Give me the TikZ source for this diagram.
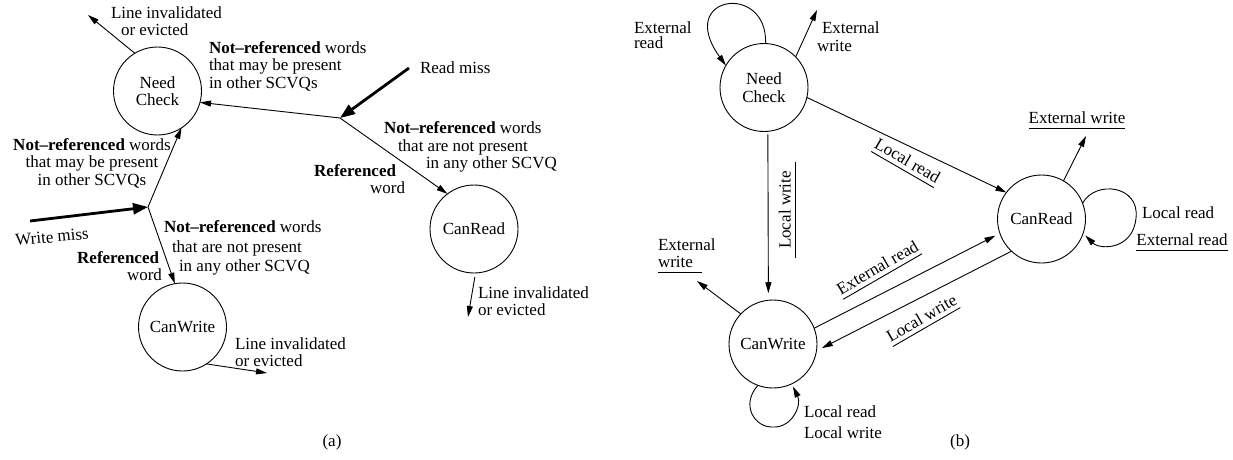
\documentclass[tikz,border=0pt]{standalone}
\usepackage{fontspec}
\setmainfont{Liberation Serif}
\usetikzlibrary{arrows.meta}
% underlined text; #1 and #2 extend the rule to the left and right
\newcommand\undrlr[3]{\setbox0\hbox{#3}\rlap{\hspace*{-#1}\rule[-5pt]{\dimexpr\wd0+#1+#2\relax}{0.9pt}}\box0}
\newcommand\undr[1]{\undrlr{0pt}{0pt}{#1}}

\begin{document}
\begin{tikzpicture}[x=1pt,y=-1pt,
  every node/.style={font=\fontsize{17}{17.5}\selectfont, inner sep=0pt, outer sep=0pt},
  state/.style={circle, draw, line width=0.9pt, minimum size=88pt, align=center},
  txt/.style={align=left, anchor=west},
  arr/.style={line width=0.9pt, -{Triangle[length=11pt,width=6pt]}},
  bigarr/.style={line width=2.8pt, -{Triangle[length=15pt,width=11pt]}},
]
\useasboundingbox (0,0) rectangle (1233,460);

% ---------------- (a) ----------------
\node[state] (nc) at (157.5,91) {Need\\Check};
\node[state] (cw) at (182.5,327) {CanWrite};
\node[state] (cr) at (474,229) {CanRead};
\coordinate (j1) at (340,118);
\coordinate (j2) at (148,207);
\coordinate (rm) at (409,68);
\coordinate (wm) at (30,221);
\coordinate (ncout) at (88,15);
\coordinate (cwout) at (267,373);
\coordinate (crout) at (468,317);

\draw[bigarr] (rm) -- (j1);
\draw[bigarr] (wm) -- (j2);
\draw[arr] (j1) -- (nc.-15);
\draw[arr] (j1) -- (cr.127);
\draw[arr] (j2) -- (nc.-57);
\draw[arr] (j2) -- (cw.100);
\draw[arr] (nc.121) -- (ncout);
\draw[arr] (cw.-57) -- (cwout);
\draw[arr, shorten <=4pt] (cr.-88) -- (crout);

\node[txt] (l1) at (111,21) {Line invalidated\\\hspace*{10pt}or evicted};
\node[txt] (l2) at (209,66) {\textbf{Not--referenced} words\\that may be present\\in other SCVQs};
\node[align=center] (l3) at (92,163) {\textbf{Not--referenced} words\\that may be present\\in other SCVQs};
\node[txt] (l4) at (384,147) {\textbf{Not--referenced} words\\\hspace*{14pt}that are not present\\\hspace*{42pt}in any other SCVQ};
\node[align=right, anchor=east] (l5) at (405,179) {\textbf{Referenced}\hspace*{9pt}\\word};
\node[txt] (l6) at (164,248) {\textbf{Not--referenced} words\\[2pt]\hspace*{8pt}that are not present\\[2pt]\hspace*{15pt}in any other SCVQ};
\node[align=right, anchor=east] (l7) at (162,266) {\textbf{Referenced}\hspace*{3pt}\\word};
\node[txt] (l8) at (235,352) {Line invalidated\\or evicted};
\node[txt] (l9) at (478,301) {Line invalidated\\or evicted};
\node[txt] (l10) at (420,68) {Read miss};
\node[rotate=5] (l11) at (52,237) {Write miss};
\node (capa) at (332,442) {(a)};

% ---------------- (b) ----------------
\node[state] (nc2) at (764,87.5) {Need\\Check};
\node[state] (cr2) at (1041.5,219) {CanRead};
\node[state] (cw2) at (773,344) {CanWrite};
\coordinate (ncew) at (817,10);
\coordinate (crew) at (1086,136);
\coordinate (cwew) at (697,281);

% Need Check
\draw[arr] (nc2.88) .. controls (768,-18) and (675,-5) .. (nc2.150);
\node[txt] (ncerl) at (634,35) {External\\[-3pt]read};
\draw[arr] (nc2.44) -- (ncew);
\node[txt] (ncewl) at (817,36.5) {\hspace*{5pt}External\\write};
\draw[arr, shorten <=3pt, shorten >=7pt] (nc2.-85) -- (cw2.96);
\node[rotate=90, anchor=base] (lw1) at (790.5,210) {\undrlr{9pt}{9pt}{Local write}};
\draw[arr] (nc2.-13) -- (cr2.143);
\node[rotate=-30, anchor=base] (lr1) at (904.7,165.6) {\undr{Local read}};

% CanWrite <-> CanRead
\draw[arr, shorten >=5pt] (cw2.21) -- (cr2.-161);
\node[rotate=30, anchor=base] (er1) at (880.3,272.6) {\undr{External read}};
\draw[arr, shorten >=6pt] (cr2.-133) -- (cw2.-9);
\node[rotate=30, anchor=base] (lw2) at (924.3,323.1) {\undr{Local write}};

% CanRead
\draw[arr] (cr2.60) -- (crew);
\node[anchor=base] (crewl) at (1077,123.5) {\undr{External write}};
\draw[arr, shorten >=3pt] (cr2.21) .. controls (1095,180) and (1140,185) .. (1136,218)
  .. controls (1133,250) and (1100,250) .. (cr2.-19);
\node[anchor=base west] (crll) at (1142,218) {Local read};
\node[anchor=base] (crel) at (1182,245.5) {\undr{External read}};

% CanWrite
\draw[arr] (cw2.137) -- (cwew);
\node[anchor=base west] (cwe1) at (658,250) {External};
\node[anchor=base west] (cwe2) at (658,267.5) {\undrlr{0pt}{9pt}{write}};
\draw[arr, shorten >=3pt] (cw2.-110) .. controls (740,405) and (755,428) .. (773,427)
  .. controls (792,428) and (802,405) .. (cw2.-65);
\node[anchor=base west] (cwl1) at (804,417) {Local read};
\node[anchor=base west] (cwl2) at (804,438) {Local write};

\node (capb) at (960,442) {(b)};
\end{tikzpicture}
\end{document}
